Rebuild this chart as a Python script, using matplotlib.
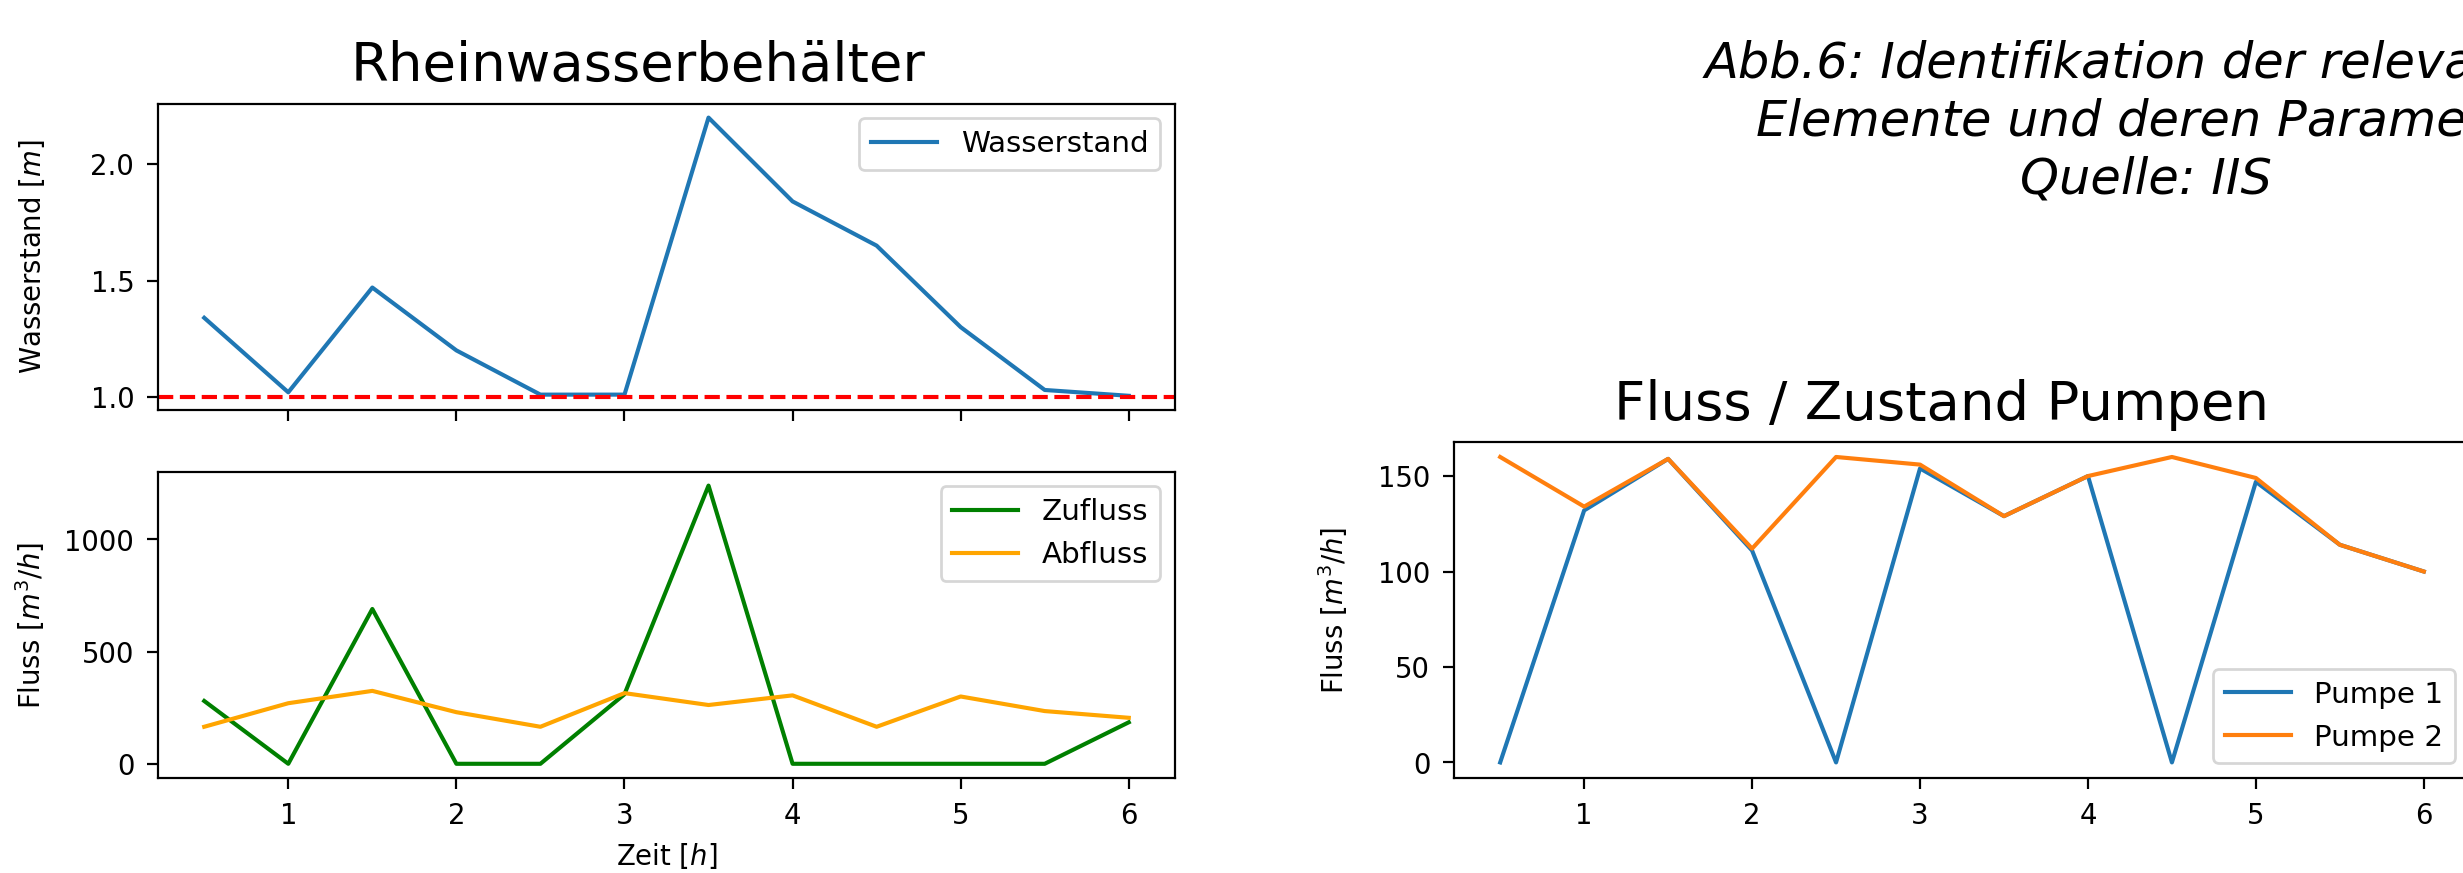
import matplotlib
matplotlib.use("Agg")
import matplotlib.pyplot as plt

# Zeitachse in Stunden
zeit = [0.5, 1.0, 1.5, 2.0, 2.5, 3.0, 3.5, 4.0, 4.5, 5.0, 5.5, 6.0]

# Rheinwasserbehaelter
wasserstand = [1.34, 1.02, 1.47, 1.20, 1.01, 1.01, 2.20, 1.84, 1.65, 1.30, 1.03, 1.005]
min_wasserstand = 1.0
zufluss = [280, 0, 690, 0, 0, 310, 1240, 0, 0, 0, 0, 185]
abfluss = [165, 270, 325, 230, 165, 315, 262, 305, 165, 300, 235, 205]

# Pumpen
pumpe1 = [0, 132, 159, 111, 0, 154, 129, 150, 0, 147, 114, 100]
pumpe2 = [160, 134, 159, 112, 160, 156, 129, 150, 160, 149, 114, 100]

caption = ["Abb.6: Identifikation der relevanten",
           "Elemente und deren Parameter",
           "Quelle: IIS"]

DPI = 198
W, H = 2463.3, 873.3


def rect(left, top, right, bottom):
    # pixel box -> figure fraction
    return [left / W, 1 - bottom / H, (right - left) / W, (bottom - top) / H]


plt.rcParams["xtick.major.size"] = 3.9
plt.rcParams["ytick.major.size"] = 3.9
plt.rcParams["xtick.major.pad"] = 4.7
plt.rcParams["ytick.major.pad"] = 4.7
plt.rcParams["legend.fontsize"] = 10.7
plt.rcParams["legend.handlelength"] = 2.25

fig = plt.figure(figsize=(W / DPI, H / DPI), dpi=DPI)

# linke Seite: Wasserstand und Fluss
ax1 = fig.add_axes(rect(158, 104, 1175, 410))
ax2 = fig.add_axes(rect(158, 472, 1175, 778), sharex=ax1)

ax1.plot(zeit, wasserstand, label="Wasserstand")
ax1.axhline(min_wasserstand, color="r", linestyle="--")
ax1.set_ylabel("Wasserstand [$m$]")
ax1.legend(loc="upper right")
ax1.tick_params(labelbottom=False)

ax2.plot(zeit, zufluss, color="green", label="Zufluss")
ax2.plot(zeit, abfluss, color="orange", label="Abfluss")
ax2.set_ylabel("Fluss [$m^3/h$]")
ax2.set_xlabel("Zeit [$h$]")
ax2.legend(loc="upper right")

ax1.yaxis.set_label_coords(-0.109, 0.5)
ax2.yaxis.set_label_coords(-0.109, 0.5)

fig.text(638 / W, 1 - 81 / H, "Rheinwasserbehälter", ha="center", va="baseline", fontsize=19.8)

# rechte Seite: Pumpen
ax3 = fig.add_axes(rect(1454, 442, 2470, 778))
ax3.plot(zeit, pumpe1, label="Pumpe 1")
ax3.plot(zeit, pumpe2, label="Pumpe 2")
ax3.set_ylabel("Fluss [$m^3/h$]")
ax3.yaxis.set_label_coords(-0.102, 0.5)
ax3.legend(loc="lower right")

fig.text(1941 / W, 1 - 420 / H, "Fluss / Zustand Pumpen", ha="center", va="baseline", fontsize=19.8)

# Bildunterschrift
for i, line in enumerate(caption):
    fig.text(2146 / W, 1 - (78 + 57.5 * i) / H, line, ha="center", va="baseline",
             fontsize=18, style="italic")

fig.savefig("out.png", dpi=DPI)
